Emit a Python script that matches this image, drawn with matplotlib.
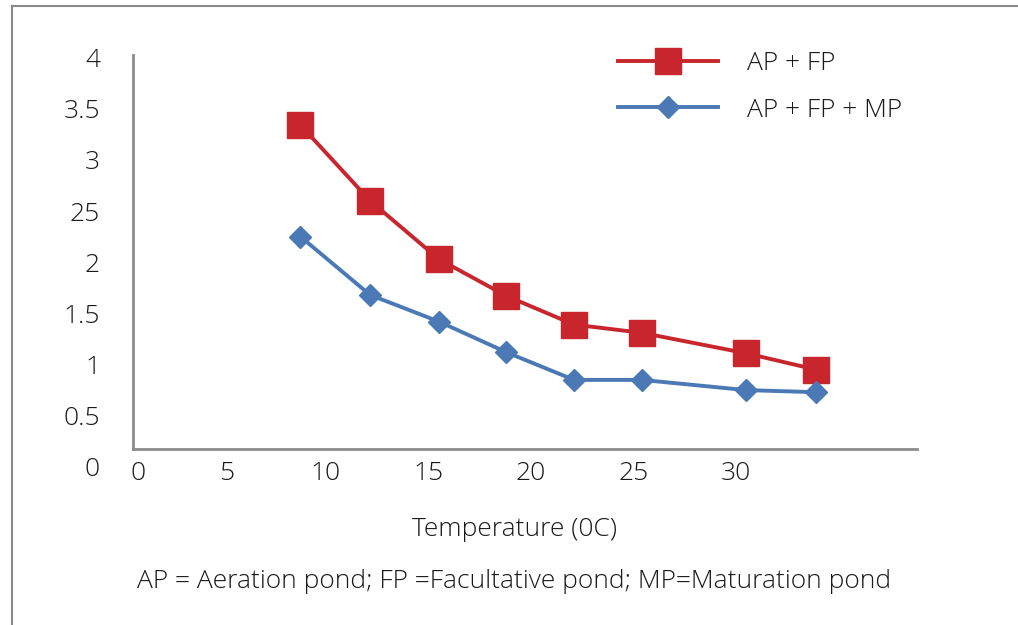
import matplotlib
matplotlib.use("Agg")
import matplotlib.pyplot as plt
from matplotlib.lines import Line2D
from matplotlib.transforms import blended_transform_factory

# data
temperature = [8.75, 12.15, 15.5, 18.8, 22.1, 25.4, 30.5, 33.9]
ap_fp = [3.37, 2.63, 2.06, 1.70, 1.42, 1.34, 1.14, 0.98]
ap_fp_mp = [2.28, 1.71, 1.45, 1.15, 0.88, 0.88, 0.78, 0.76]

# y labels as printed (note the "25" typo in the source)
y_tick_values = [0, 0.5, 1, 1.5, 2, 2.5, 3, 3.5, 4]
y_tick_labels = ["0", "0.5", "1", "1.5", "2", "25", "3", "3.5", "4"]
x_tick_values = [0.83, 5.17, 10, 15, 20, 25, 30]
x_tick_labels = ["0", "5", "10", "15", "20", "25", "30"]

RED = "#C8252C"
BLUE = "#4A79B5"
TEXT = "#1A1A1A"
AXIS = "#8C8C8C"
FONT = "Open Sans"
FS = 19
WEIGHT = "light"


def main():
    plt.rcParams["font.family"] = [FONT, "DejaVu Sans"]
    fig = plt.figure(figsize=(10.18, 6.25), dpi=100)
    ax = fig.add_axes([0.1306, 0.2816, 0.7702, 0.6304])

    ax.plot(temperature, ap_fp, color=RED, linewidth=2.8, marker="s",
            markersize=18.5, label="AP + FP")
    ax.plot(temperature, ap_fp_mp, color=BLUE, linewidth=2.8, marker="D",
            markersize=11.0, label="AP + FP + MP")

    ax.set_xlim(0.585, 38.83)
    ax.set_ylim(0.205, 4.053)

    for side in ["top", "right"]:
        ax.spines[side].set_visible(False)
    for side in ["left", "bottom"]:
        ax.spines[side].set_color(AXIS)
        ax.spines[side].set_linewidth(2.0)

    ax.set_yticks([])
    trans = blended_transform_factory(ax.transAxes, ax.transData)
    for v, lab in zip(y_tick_values, y_tick_labels):
        ax.text(-0.042, v, lab, transform=trans, ha="right", va="center",
                fontsize=FS, color=TEXT, fontweight=WEIGHT, clip_on=False)

    ax.set_xticks(x_tick_values, x_tick_labels)
    ax.tick_params(axis="x", length=0, pad=9, labelsize=FS, labelcolor=TEXT)
    for t in ax.get_xticklabels():
        t.set_fontweight(WEIGHT)

    leg = ax.legend(loc="upper left", bbox_to_anchor=(618 / 1018, 1 - 51 / 625),
                    bbox_transform=fig.transFigure, frameon=False, numpoints=1,
                    handlelength=3.8, handletextpad=1.1, labelspacing=0.82,
                    borderpad=0, borderaxespad=0, fontsize=FS)
    for t in leg.get_texts():
        t.set_color(TEXT)
        t.set_fontweight(WEIGHT)

    fig.text(515 / 1018, 1 - 530 / 625, "Temperature (0C)", ha="center",
             va="center", fontsize=FS, color=TEXT, fontweight=WEIGHT)
    fig.text(514 / 1018, 1 - 581 / 625,
             "AP = Aeration pond; FP =Facultative pond; MP=Maturation pond",
             ha="center", va="center", fontsize=FS, color=TEXT, fontweight=WEIGHT)

    # partial frame around the figure (top and left edges only)
    fig.add_artist(Line2D([12 / 1018, 1.0], [1 - 6 / 625, 1 - 6 / 625],
                          transform=fig.transFigure, color="#8A8A8A", linewidth=1.5))
    fig.add_artist(Line2D([12 / 1018, 12 / 1018], [0.0, 1 - 6 / 625],
                          transform=fig.transFigure, color="#8A8A8A", linewidth=1.5))

    fig.savefig("out.png", dpi=100)


if __name__ == "__main__":
    main()
